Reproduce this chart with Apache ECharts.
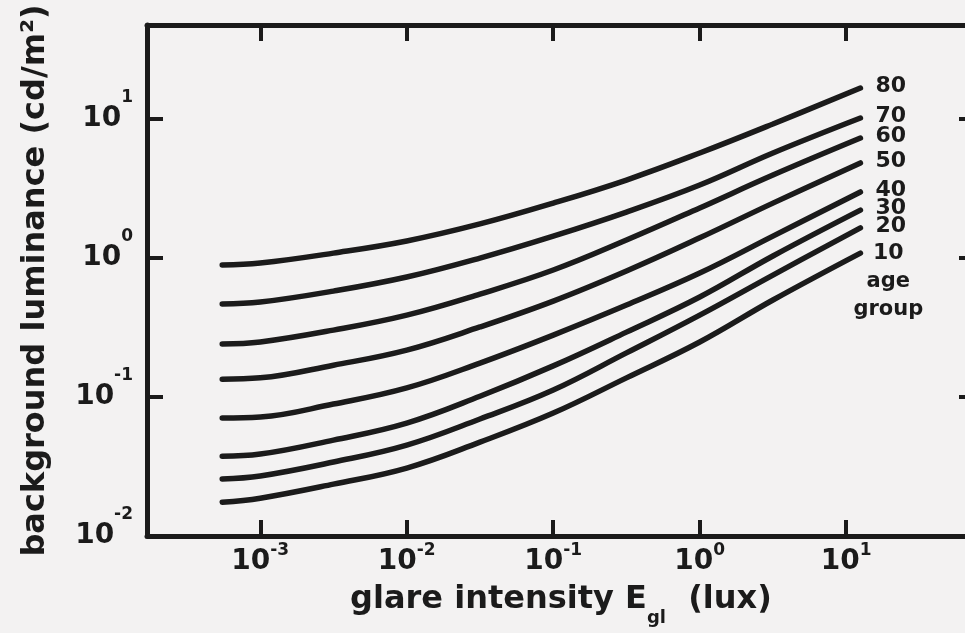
<!DOCTYPE html>
<html>
<head>
<meta charset="utf-8" />
<script src="https://cdn.jsdelivr.net/npm/echarts@6.0.0/dist/echarts.min.js"></script>
<style>
    html, body { margin: 0; padding: 0; background: #f3f2f2; }
    #main { width: 965px; height: 633px; }
</style>
</head>
<body>
<div id="main"></div>
<script>
    const glare = [0.00055, 0.001, 0.00316, 0.01, 0.0316, 0.1, 0.316, 1, 3.16, 12.5];
    const ageGroups = ['80', '70', '60', '50', '40', '30', '20', '10'];

    // background luminance (cd/m2) for each age group
    const lum80 = [0.886, 0.916, 1.08, 1.32, 1.75, 2.47, 3.62, 5.66, 9.15, 16.6];
    const lum70 = [0.465, 0.480, 0.576, 0.727, 0.995, 1.43, 2.13, 3.33, 5.66, 10.1];
    const lum60 = [0.240, 0.248, 0.302, 0.387, 0.548, 0.816, 1.34, 2.28, 3.93, 7.25];
    const lum50 = [0.134, 0.137, 0.169, 0.217, 0.318, 0.488, 0.803, 1.39, 2.47, 4.80];
    const lum40 = [0.0704, 0.0716, 0.0888, 0.116, 0.175, 0.278, 0.457, 0.776, 1.43, 2.97];
    const lum30 = [0.0375, 0.0388, 0.0489, 0.0648, 0.101, 0.167, 0.292, 0.522, 1.03, 2.20];
    const lum20 = [0.0257, 0.0270, 0.0340, 0.0450, 0.0693, 0.112, 0.207, 0.387, 0.751, 1.64];
    const lum10 = [0.0175, 0.0187, 0.0236, 0.0308, 0.0473, 0.0765, 0.137, 0.248, 0.497, 1.08];
    const curves = [lum80, lum70, lum60, lum50, lum40, lum30, lum20, lum10];

    const ink = '#1b1b1b';
    const font = 'DejaVu Sans';

    var myChart = echarts.init(document.getElementById('main'));

    // 10^n labels, blank for the axis end values
    function powLabel(v) {
        var e = Math.log10(v);
        var r = Math.round(e);
        if (Math.abs(e - r) > 1e-6) return '';
        return '{b|10}{s|' + r + '}';
    }

    var tickStyle = { show: true, inside: true, length: 16, lineStyle: { color: ink, width: 4 } };
    var lineAxis = { show: true, onZero: false, lineStyle: { color: ink, width: 5 } };

    var series = ageGroups.map(function (age, i) {
        var last = glare.length - 1;
        var isLow = age === '10';
        return {
            name: age,
            type: 'line',
            smooth: 0.4,
            symbol: 'circle',
            symbolSize: 0,
            showSymbol: true,
            silent: true,
            data: glare.map(function (g, j) { return [g, curves[i][j]]; }),
            lineStyle: { color: ink, width: 5.5, cap: 'round' },
            itemStyle: { color: ink },
            label: {
                show: true,
                position: 'right',
                distance: 15,
                offset: isLow ? [-22, 28] : [0, -2],
                color: ink,
                fontFamily: font,
                fontWeight: 'bold',
                fontSize: 22,
                formatter: function (p) {
                    if (p.dataIndex !== last) return '';
                    return isLow ? '{n|10}\n{t|age}\n{t|group}' : age;
                },
                rich: {
                    n: { fontFamily: font, fontWeight: 'bold', fontSize: 22, lineHeight: 28, align: 'center', color: ink },
                    t: { fontFamily: font, fontWeight: 'bold', fontSize: 21, lineHeight: 28, align: 'center', color: ink }
                }
            },
            emphasis: { disabled: true }
        };
    });

    var option = {
        backgroundColor: '#f3f2f2',
        animation: false,
        grid: { left: 147, right: -10, top: 25, bottom: 97, outerBoundsMode: 'none' },
        xAxis: [{
            type: 'log',
            min: 1.686e-4,
            max: 75.7,
            position: 'bottom',
            axisLine: lineAxis,
            axisTick: tickStyle,
            splitLine: { show: false },
            axisLabel: {
                margin: 6,
                formatter: powLabel,
                rich: {
                    b: { fontFamily: font, fontWeight: 'bold', fontSize: 28, lineHeight: 40, color: ink },
                    s: { fontFamily: font, fontWeight: 'bold', fontSize: 17, lineHeight: 18, verticalAlign: 'top', color: ink }
                }
            },
            name: '{a|glare intensity E}{sub|gl}{a|  (lux)}',
            nameLocation: 'middle',
            nameGap: 46,
            nameMoveOverlap: false,
            nameTextStyle: {
                rich: {
                    a: { fontFamily: font, fontWeight: 'bold', fontSize: 32, lineHeight: 36, color: ink },
                    sub: { fontFamily: font, fontWeight: 'bold', fontSize: 18, lineHeight: 18, verticalAlign: 'top', padding: [27, 0, 0, 0], color: ink }
                }
            }
        }, {
            type: 'log',
            min: 1.686e-4,
            max: 75.7,
            position: 'top',
            axisLine: lineAxis,
            axisTick: tickStyle,
            axisLabel: { show: false },
            splitLine: { show: false }
        }],
        yAxis: [{
            type: 'log',
            min: 0.01,
            max: 47.1,
            position: 'left',
            axisLine: lineAxis,
            axisTick: tickStyle,
            splitLine: { show: false },
            axisLabel: {
                margin: 14,
                formatter: powLabel,
                rich: {
                    b: { fontFamily: font, fontWeight: 'bold', fontSize: 28, lineHeight: 60, color: ink },
                    s: { fontFamily: font, fontWeight: 'bold', fontSize: 17, lineHeight: 18, verticalAlign: 'top', color: ink }
                }
            },
            name: 'background luminance (cd/m²)',
            nameLocation: 'middle',
            nameGap: 95,
            nameMoveOverlap: false,
            nameTextStyle: { fontFamily: font, fontWeight: 'bold', fontSize: 32, color: ink }
        }, {
            type: 'log',
            min: 0.01,
            max: 47.1,
            position: 'right',
            axisLine: lineAxis,
            axisTick: tickStyle,
            axisLabel: { show: false },
            splitLine: { show: false }
        }],
        series: series
    };

    myChart.setOption(option);
</script>
</body>
</html>
